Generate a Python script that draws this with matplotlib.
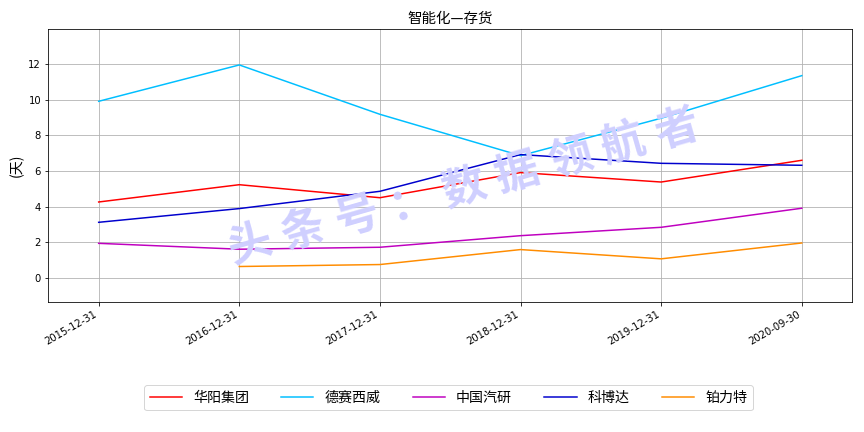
import numpy as np
import matplotlib
matplotlib.use("Agg")
import matplotlib.pyplot as plt

plt.rcParams['font.family'] = ['DejaVu Sans', 'Noto Sans CJK SC']

# --- data ---
dates = ["2015-12-31", "2016-12-31", "2017-12-31", "2018-12-31", "2019-12-31", "2020-09-30"]
huayang = [4.26, 5.23, 4.50, 5.91, 5.38, 6.60]
desay = [9.91, 11.95, 9.18, 6.86, 8.96, 11.35]
caeri = [1.94, 1.61, 1.72, 2.37, 2.84, 3.91]
keboda = [3.12, 3.89, 4.86, 6.92, 6.43, 6.32]
bright = [np.nan, 0.64, 0.75, 1.59, 1.07, 1.96]

names = ["华阳集团", "德赛西威", "中国汽研", "科博达", "铂力特"]
series = [huayang, desay, caeri, keboda, bright]
colors = ["red", "deepskyblue", "m", "mediumblue", "darkorange"]

watermark = "头条号：数据领航者"

fig = plt.figure(figsize=(12, 6), dpi=72)
ax = fig.add_axes([0.0556, 0.301, 0.931, 0.632])

# watermark: one char at a time along a slanted line (figure pixels)
x0, y0 = 250, 432 - 245
x1, y1 = 677, 432 - 130
n = len(watermark)
for i, ch in enumerate(watermark):
    t = i / (n - 1)
    fig.text((x0 + t * (x1 - x0)) / 864, (y0 + t * (y1 - y0)) / 432, ch,
             fontsize=44, color="#cfcfff", rotation=16, ha="center", va="center",
             family="Noto Sans CJK SC", fontweight="bold", zorder=0)

x = np.arange(len(dates))
for vals, name, c in zip(series, names, colors):
    ax.plot(x, vals, color=c, linewidth=1.5, label=name, zorder=3)

ax.set_xticks(x)
ax.set_xticklabels(dates, rotation=30, ha="right")
ax.set_xlim(-0.36, 5.36)
ax.set_ylim(-1.35, 13.97)
ax.set_yticks([0, 2, 4, 6, 8, 10, 12])
ax.tick_params(labelsize=10)
ax.grid(True, color="#b0b0b0", linewidth=0.8)
ax.set_axisbelow(True)
ax.patch.set_alpha(0)

ax.set_title("智能化—存货", fontsize=14.5, family=["Noto Sans CJK SC", "DejaVu Sans"])
ax.set_ylabel("(天)", fontsize=14, family=["Noto Sans CJK SC", "DejaVu Sans"])

fig.legend(loc="center", bbox_to_anchor=(0.519, 0.079), ncol=5,
           prop={"family": "Noto Sans CJK SC", "size": 14},
           handlelength=2.3, columnspacing=2.3, frameon=True)

fig.savefig("out.png", dpi=72)
